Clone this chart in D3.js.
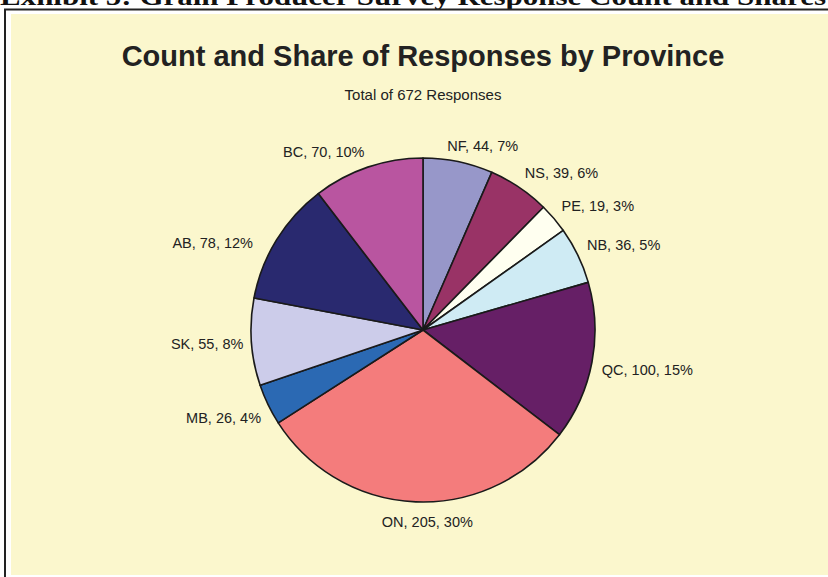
<!DOCTYPE html>
<html>
<head>
<meta charset="utf-8">
<script src="https://cdn.jsdelivr.net/npm/d3@7"></script>
<style>
  body { margin: 0; background: #fff; }
  svg { display: block; }
</style>
</head>
<body>
<div id="chart"></div>
<script>
// data
const provinces = ["NF", "NS", "PE", "NB", "QC", "ON", "MB", "SK", "AB", "BC"];
const counts = [44, 39, 19, 36, 100, 205, 26, 55, 78, 70];
// shares as printed on the chart (rounded so they add to 100)
const shares = [7, 6, 3, 5, 15, 30, 4, 8, 12, 10];
const sliceColors = ["#9797c9", "#993366", "#fffff0", "#cfebf4", "#661f66",
                     "#f47c7c", "#2b69b3", "#ccccea", "#29296f", "#b955a0"];
const chartTitle = "Count and Share of Responses by Province";
const exhibitTitle = "Exhibit 5: Grain Producer Survey Response Count and Shares";

const total = d3.sum(counts);
const subTitle = "Total of " + total + " Responses";

var width = 828;
var height = 577;
var cx = 423, cy = 330, radius = 172;

var svg = d3.select("#chart").append("svg")
  .attr("width", width)
  .attr("height", height);

/* cut-off page heading */
svg.append("text")
  .attr("x", 0)
  .attr("y", 5)
  .attr("textLength", 826)
  .attr("lengthAdjust", "spacingAndGlyphs")
  .style("font-family", "'Liberation Serif', 'Times New Roman', serif")
  .style("font-weight", "bold")
  .style("font-size", "25px")
  .attr("fill", "#111")
  .text(exhibitTitle);

/* frame */
svg.append("path")
  .attr("d", `M5,${height} L5,9.5 L${width},9.5`)
  .attr("fill", "none")
  .attr("stroke", "#222")
  .attr("stroke-width", 2);

svg.append("rect")
  .attr("x", 11).attr("y", 14)
  .attr("width", width - 11).attr("height", 561)
  .attr("fill", "#fbf7cd");

/* titles */
svg.append("text")
  .attr("x", cx).attr("y", 66)
  .attr("text-anchor", "middle")
  .style("font-family", "'Liberation Sans', Arial, sans-serif")
  .style("font-weight", "bold")
  .style("font-size", "29px")
  .attr("fill", "#222")
  .text(chartTitle);

svg.append("text")
  .attr("x", cx).attr("y", 100)
  .attr("text-anchor", "middle")
  .style("font-family", "'Liberation Sans', Arial, sans-serif")
  .style("font-size", "15px")
  .attr("fill", "#222")
  .text(subTitle);

/* pie */
var pie = d3.pie().sort(null).value(d => d.count);
var rows = provinces.map((p, i) => ({ name: p, count: counts[i], share: shares[i], color: sliceColors[i] }));
var arcs = pie(rows);

var arc = d3.arc().innerRadius(0).outerRadius(radius);
var g = svg.append("g").attr("transform", `translate(${cx},${cy})`);

g.selectAll("path.slice")
  .data(arcs)
  .enter()
  .append("path")
  .attr("class", "slice")
  .attr("d", arc)
  .attr("fill", d => d.data.color)
  .attr("stroke", "#1a1a1a")
  .attr("stroke-width", 1.6)
  .attr("stroke-linejoin", "round");

/* labels: anchored at a point just outside the rim, Excel-ish */
var labelR = radius + 10;
// small layout nudges where the original moved a label
var nudge = { NF: [-13, 0], AB: [-15, 14], SK: [2, -5], MB: [2, 3], ON: [12, 0] };

g.selectAll("text.lbl")
  .data(arcs)
  .enter()
  .append("text")
  .attr("class", "lbl")
  .each(function (d) {
    var a = (d.startAngle + d.endAngle) / 2;
    var s = Math.sin(a), c = Math.cos(a);
    var n = nudge[d.data.name] || [0, 0];
    var x = labelR * s + n[0];
    var y = -labelR * c + n[1];
    var anchor = Math.abs(s) < 0.15 ? "middle" : (s > 0 ? "start" : "end");
    // shift vertically so text sits outside the rim
    var dy = c > 0 ? -6 : 6;
    if (Math.abs(s) < 0.15) dy = c > 0 ? -8 : 10;
    d3.select(this)
      .attr("x", x)
      .attr("y", y + dy)
      .attr("dy", "0.35em")
      .attr("text-anchor", anchor);
  })
  .style("font-family", "'Liberation Sans', Arial, sans-serif")
  .style("font-size", "14.5px")
  .attr("fill", "#222")
  .text(d => `${d.data.name}, ${d.data.count}, ${d.data.share}%`);
</script>
</body>
</html>
